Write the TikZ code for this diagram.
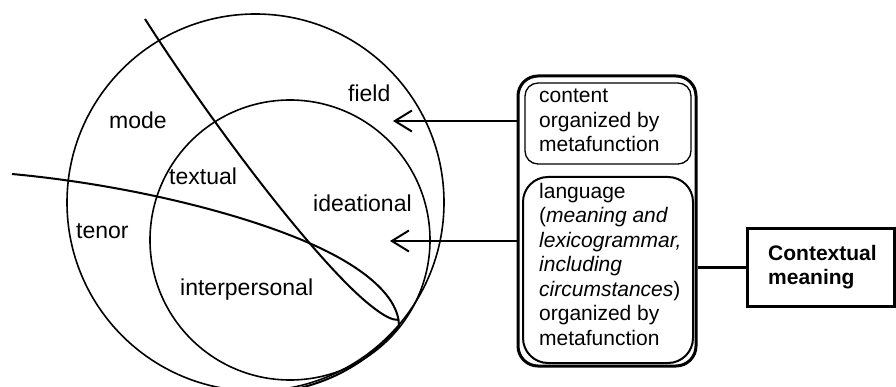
\documentclass[tikz,border=0pt]{standalone}
\usepackage{fontspec}
\setmainfont{Liberation Sans}
\usetikzlibrary{arrows.meta}
\tikzset{
  ring/.style={draw, line width=1.6pt},
  strand/.style={draw, line width=2pt},
  lbl/.style={anchor=base west, inner sep=0pt, font=\fontsize{23}{26}\selectfont},
  boxtext/.style={anchor=north west, inner sep=0pt, align=left, font=\fontsize{21}{24.5}\selectfont},
  pointer/.style={draw, line width=2pt, -{Straight Barb[length=17pt,width=21pt,line width=2pt]}},
  link/.style={draw, line width=2.5pt},
}
\begin{document}
\begin{tikzpicture}[x=1pt,y=-1pt]
\useasboundingbox (0,0) rectangle (896,387);
% register circles
\draw[ring] (255.5,202.5) circle[radius=188.5];
\draw[ring] (290,240) circle[radius=140];
% dividing strands
\draw[strand] (145,19) .. controls (220,136) and (320,265) .. (370,305)
              .. controls (385,317) and (392,320) .. (399,320);
\draw[strand] (12,174) .. controls (120,184) and (230,210) .. (302,240)
              .. controls (360,264) and (399,295) .. (399,326)
              .. controls (372,358) and (340,378) .. (300,388);
% region labels
\node[lbl] (field) at (348,102) {field};
\node[lbl] (mode) at (109,129) {mode};
\node[lbl] (textual) at (169,185) {textual};
\node[lbl] (ideational) at (313,212) {ideational};
\node[lbl] (tenor) at (76,239) {tenor};
\node[lbl] (interpersonal) at (180,295) {interpersonal};
% stacked boxes
\node[draw, line width=3pt, rounded corners=20pt, minimum width=178pt, minimum height=290pt] (stack) at (607,221) {};
\node[draw, line width=1.3pt, rounded corners=13pt, minimum width=166pt, minimum height=81pt] (content) at (608,123.5) {};
\node[draw, line width=2pt, rounded corners=25pt, minimum width=170pt, minimum height=186pt] (language) at (608,270) {};
\node[boxtext] (contenttext) at (539,89) {content\\organized by\\metafunction};
\node[boxtext] (languagetext) at (539,183) {language\\(\textit{meaning and}\\\textit{lexicogrammar,}\\\textit{including}\\\textit{circumstances})\\organized by\\metafunction};
% context box
\node[draw, line width=3pt, minimum width=147pt, minimum height=77pt] (ctx) at (821,267.5) {};
\node[anchor=west, inner sep=0pt, align=left, font=\fontsize{21}{24.5}\selectfont\bfseries] (ctxtext) at (768,267) {Contextual\\meaning};
% connectors
\coordinate (tipfield) at (393,121);
\coordinate (tipideational) at (390,241);
\draw[pointer] (stack.west |- tipfield) -- (tipfield);
\draw[pointer] (stack.west |- tipideational) -- (tipideational);
\draw[link] (ctx.west) -- (ctx.west -| stack.east);
\end{tikzpicture}
\end{document}
